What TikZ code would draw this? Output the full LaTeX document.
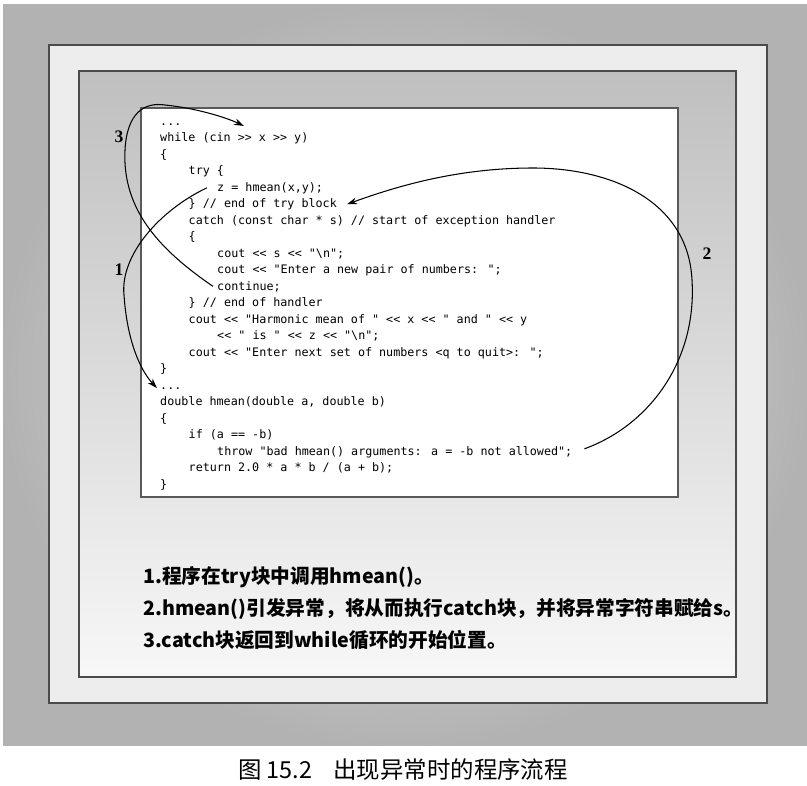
\documentclass[tikz,border=0pt]{standalone}
\usepackage{fontspec}
\usepackage{tikz}
\usetikzlibrary{arrows.meta,positioning,calc}
\newfontfamily\codefont{DejaVu Sans Mono}[Ligatures=TeXOff]
\newfontfamily\cjk{Noto Sans CJK SC}
\newfontfamily\numfont{Liberation Serif}
\definecolor{FrameGray}{HTML}{4A4A4A}
\definecolor{PaperGray}{HTML}{EDEDED}

\begin{document}
\begin{tikzpicture}[
  x=0.03cm, y=-0.03cm,
  code/.style={anchor=base west, inner sep=0pt, font=\codefont\fontsize{10pt}{12pt}\selectfont},
  note/.style={anchor=west, inner sep=0pt, font=\cjk\bfseries\fontsize{16.8pt}{20pt}\selectfont},
  stepno/.style={inner sep=0pt, font=\numfont\bfseries\fontsize{15pt}{16pt}\selectfont},
  frame/.style={draw=FrameGray, line width=1.2pt},
  flow/.style={-{Stealth[length=3mm,width=2mm]}, line width=0.9pt}
]
\useasboundingbox (0,0) rectangle (807,786);
% backdrop and frames
\fill[white] (0,0) rectangle (807,786);
\shade[inner color=gray!15, outer color=gray!60] (3,5) rectangle (807,745);
\draw[frame, fill=PaperGray] (49,45) rectangle (767,703);
\shade[top color=gray!50, bottom color=gray!6] (79,71) rectangle (736,677);
\draw[frame] (79,71) rectangle (736,677);
\draw[draw=gray!70!black, line width=1.6pt, fill=white] (141,108) rectangle (678,497);

% code listing
\node[code] (l0)  at (160,125)   {...};
\node[code] (l1)  at (160,141.5) {while (cin >> x >> y)};
\node[code] (l2)  at (160,158)   {\{};
\node[code] (l3)  at (188.5,174.5) {try \{};
\node[code] (l4)  at (217,191)   {z = hmean(x,y);};
\node[code] (l5)  at (188.5,207.5) {\} // end of try block};
\node[code] (l6)  at (188.5,224) {catch (const char * s) // start of exception handler};
\node[code] (l7)  at (188.5,240.5) {\{};
\node[code] (l8)  at (217,257)   {cout << s << "\textbackslash n";};
\node[code] (l9)  at (217,273.5) {cout << "Enter a new pair of numbers: ";};
\node[code] (l10) at (217,290)   {continue;};
\node[code] (l11) at (188.5,306.5) {\} // end of handler};
\node[code] (l12) at (188.5,323) {cout << "Harmonic mean of " << x << " and " << y};
\node[code] (l13) at (217,339.5) {<< " is " << z << "\textbackslash n";};
\node[code] (l14) at (188.5,356) {cout << "Enter next set of numbers <q to quit>: ";};
\node[code] (l15) at (160,372.5) {\}};
\node[code] (l16) at (160,389)   {...};
\node[code] (l17) at (160,405.5) {double hmean(double a, double b)};
\node[code] (l18) at (160,422)   {\{};
\node[code] (l19) at (188.5,438.5) {if (a == -b)};
\node[code] (l20) at (217,455)   {throw "bad hmean() arguments: a = -b not allowed";};
\node[code] (l21) at (188.5,471.5) {return 2.0 * a * b / (a + b);};
\node[code] (l22) at (160,488)   {\}};

% step numbers
\node[stepno] (n3) at (119,137) {3};
\node[stepno] (n1) at (119,270) {1};
\node[stepno] (n2) at (707,254) {2};

% control flow
\coordinate (loop) at (244,126);
\draw[flow] ($(l4.west)+(-10,0)$) .. controls (160,210) and (120,255) .. (124,295)
  .. controls (127,340) and (140,370) .. ($(l16.west)+(-3,0)$);
\draw[flow] ($(l20.east)+(12,-3)$) .. controls (650,425) and (697,360) .. (692,280)
  .. controls (688,200) and (610,168) .. (533,168)
  .. controls (460,168) and (400,185) .. ($(l5.east)+(10,0)$);
\draw[flow] ($(l10.west)+(-4,0)$) .. controls (160,250) and (122,210) .. (125,150)
  .. controls (127,112) and (145,102) .. (165,105)
  .. controls (195,108) and (225,117) .. (loop);

% notes
\node[note] (t1) at (143,577) {1.程序在try块中调用hmean()。};
\node[note] (t2) at (143,609) {2.hmean()引发异常，将从而执行catch块，并将异常字符串赋给s。};
\node[note] (t3) at (143,640) {3.catch块返回到while循环的开始位置。};

% caption
\node[font=\cjk\fontsize{20pt}{22pt}\selectfont, inner sep=0pt] (cap) at (403,770) {图 15.2\hspace{0.9em}出现异常时的程序流程};
\end{tikzpicture}
\end{document}
